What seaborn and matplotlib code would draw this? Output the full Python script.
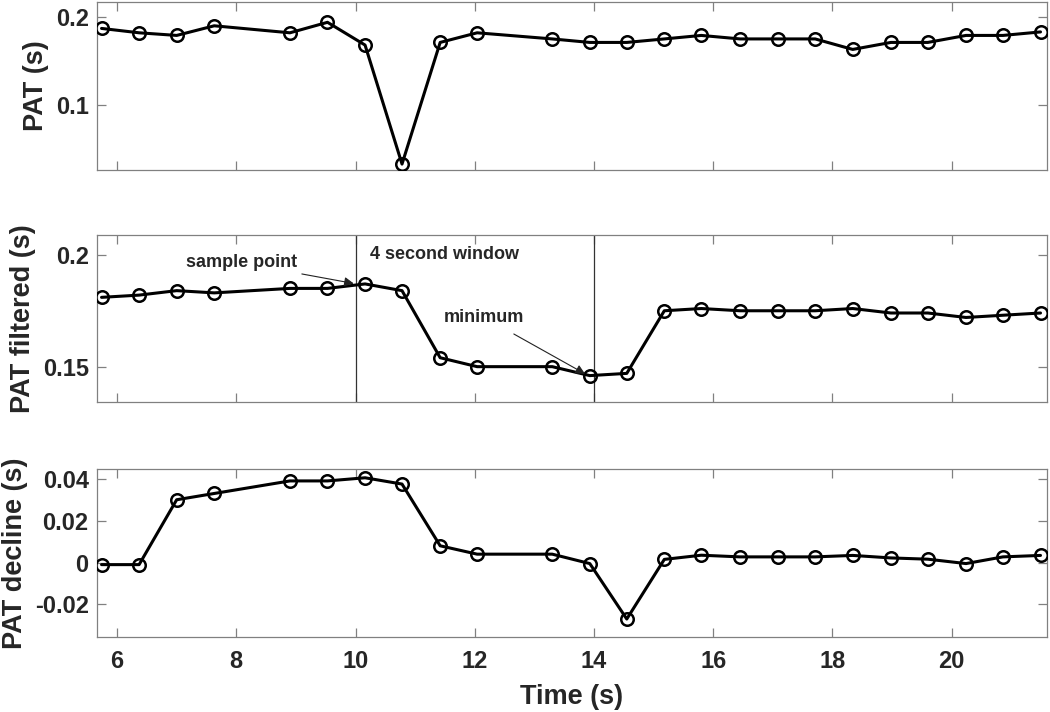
import numpy as np
import pandas as pd
import matplotlib
matplotlib.use('Agg')
import matplotlib.pyplot as plt
import seaborn as sns

# sample times (s)
time_s = [5.74, 6.37, 7.00, 7.63, 8.90, 9.53, 10.16, 10.78, 11.42, 12.04,
          13.30, 13.93, 14.55, 15.18, 15.80, 16.45, 17.08, 17.71, 18.34,
          18.98, 19.60, 20.24, 20.86, 21.49]

pat = [0.187, 0.182, 0.179, 0.190, 0.182, 0.194, 0.168, 0.032, 0.171, 0.182,
       0.175, 0.171, 0.171, 0.175, 0.179, 0.175, 0.175, 0.175, 0.163, 0.171,
       0.171, 0.179, 0.179, 0.183]

pat_filtered = [0.181, 0.182, 0.184, 0.183, 0.185, 0.185, 0.187, 0.184, 0.154,
                0.150, 0.150, 0.146, 0.147, 0.175, 0.176, 0.175, 0.175, 0.175,
                0.176, 0.174, 0.174, 0.172, 0.173, 0.174]

pat_decline = [-0.001, -0.001, 0.030, 0.033, 0.039, 0.039, 0.0405, 0.0375,
               0.008, 0.004, 0.004, -0.0005, -0.027, 0.0015, 0.0035, 0.0027,
               0.0027, 0.0027, 0.0034, 0.0022, 0.0016, -0.0005, 0.0027, 0.0034]

ylabels = ['PAT (s)', 'PAT filtered (s)', 'PAT decline (s)']
yticks = [[0.1, 0.2], [0.15, 0.2], [-0.02, 0, 0.02, 0.04]]
yticklabels = [['0.1', '0.2'], ['0.15', '0.2'], ['-0.02', '0', '0.02', '0.04']]
ylims = [(0.0252, 0.2172), (0.1342, 0.2089), (-0.0356, 0.0447)]
xticks = [6, 8, 10, 12, 14, 16, 18, 20]
window = [10, 14]

df = pd.DataFrame({'time': time_s, 'pat': pat, 'filt': pat_filtered, 'decl': pat_decline})

sns.set_style('ticks')
plt.rcParams['font.family'] = ['Liberation Sans', 'DejaVu Sans']
plt.rcParams['axes.unicode_minus'] = False

fig = plt.figure(figsize=(10.5, 7.12), dpi=100)
left, width = 0.0924, 0.9048
boxes = [(0.7612, 0.236), (0.4354, 0.2346), (0.1053, 0.236)]
axes = [fig.add_axes([left, b, width, h]) for b, h in boxes]

cols = ['pat', 'filt', 'decl']
for i, ax in enumerate(axes):
    sns.lineplot(data=df, x='time', y=cols[i], ax=ax, color='black', lw=2.2,
                 marker='o', markersize=9, markerfacecolor='none',
                 markeredgecolor='black', markeredgewidth=1.8, zorder=3)
    ax.set_xlim(5.664, 21.6)
    ax.set_ylim(*ylims[i])
    ax.set_xticks(xticks)
    ax.set_yticks(yticks[i])
    ax.set_yticklabels(yticklabels[i])
    ax.set_ylabel(ylabels[i], fontsize=19.5, fontweight='bold', color='#262626',
                  labelpad=5)
    ax.set_xlabel('')
    ax.tick_params(direction='in', length=6.5, width=0.9, color='#808080',
                   top=True, right=True, labelsize=17, labelcolor='#262626')
    ax.tick_params(axis='y', pad=6)
    ax.tick_params(axis='x', pad=9)
    for lab in ax.get_yticklabels() + ax.get_xticklabels():
        lab.set_fontweight('bold')
    for sp in ax.spines.values():
        sp.set_color('#808080')
        sp.set_linewidth(0.9)
    if i < 2:
        ax.tick_params(labelbottom=False)

axes[2].set_xlabel('Time (s)', fontsize=19.5, fontweight='bold', color='#262626',
                   labelpad=8)

# annotations on the filtered panel
ax = axes[1]
for xv in window:
    ax.axvline(xv, color='#333333', lw=0.9, zorder=2)
ax.annotate('sample point', xy=(9.97, 0.1872), xytext=(8.09, 0.1964),
            ha='center', va='center', fontsize=13, fontweight='bold',
            arrowprops=dict(arrowstyle='-|>', color='#222222', lw=0.8,
                            mutation_scale=14, shrinkA=1, shrinkB=0))
ax.text(10.24, 0.2000, '4 second window', ha='left', va='center',
        fontsize=13, fontweight='bold')
ax.annotate('minimum', xy=(13.85, 0.1468), xytext=(12.16, 0.1720),
            ha='center', va='center', fontsize=13, fontweight='bold',
            arrowprops=dict(arrowstyle='-|>', color='#222222', lw=0.8,
                            mutation_scale=14, shrinkA=7, shrinkB=0))

fig.savefig('out.png', dpi=100, facecolor='white')
